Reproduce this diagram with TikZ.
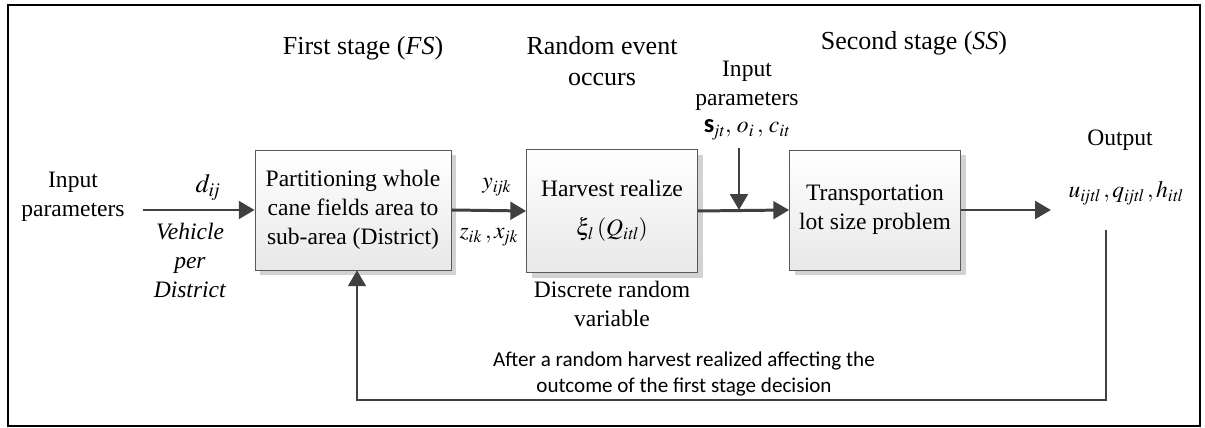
\documentclass[tikz,border=0pt]{standalone}
\usepackage{mathptmx}
\usepackage{fontspec}
\setmainfont{Liberation Serif}
\newfontfamily\calib{Carlito}
\usetikzlibrary{arrows.meta,shadows}
\definecolor{linegray}{HTML}{404040}
\tikzset{
  blockbox/.style={draw=gray!70!black,top color=white,bottom color=gray!18,
    minimum height=2.4cm,align=center,inner sep=2pt,
    drop shadow={shadow xshift=3pt,shadow yshift=-3pt,fill=gray!35,opacity=1}},
  flow/.style={draw=linegray,line width=1.7pt,-{Triangle[length=9pt,width=10pt]}},
  lbl/.style={align=center,inner sep=0pt},
  head/.style={lbl,font=\fontsize{14.8}{18}\selectfont}
}
\begin{document}
\begin{tikzpicture}[x=0.02cm,y=-0.02cm,font=\fontsize{13.4}{16.5}\selectfont]
        \useasboundingbox (0,0) rectangle (1205,428);
        \draw[line width=1.2pt] (8,5) rectangle (1200,426);
        % the three blocks
        \node[blockbox,minimum width=3.92cm] (fs) at (353,210)
            {Partitioning whole\\cane fields area to\\sub-area (District)};
        \node[blockbox,minimum width=3.42cm,minimum height=2.46cm] (re) at (612,211)
            {Harvest realize\\[6pt]$\xi_{l}\,(Q_{\mathit{itl}})$};
        \node[blockbox,minimum width=3.42cm] (ss) at (875,210)
            {Transportation\\lot size problem};
        % headings
        \node[head] (hfs) at (363,48) {First stage (\textit{FS})};
        \node[head] (hre) at (602,61) {Random event\\occurs};
        \node[head] (hss) at (914,43) {Second stage (\textit{SS})};
        % inputs and outputs
        \node[lbl] (inp) at (73,197) {Input\\parameters};
        \node[lbl,font=\fontsize{15}{18}\selectfont] (dij) at (208,187) {$d_{\mathit{ij}}$};
        \node[lbl] (veh) at (190,260) {\textit{Vehicle}\\\textit{per}\\\textit{District}};
        \node[lbl] (yijk) at (497,187) {$y_{\mathit{ijk}}$};
        \node[lbl] (zx) at (489,237) {$z_{\mathit{ik}}\,,x_{\mathit{jk}}$};
        \node[lbl] (drv) at (612,304) {Discrete random\\variable};
        \node[lbl] (inp2) at (747,86) {Input\\parameters};
        \node[lbl] (soc) at (747,130) {{\calib\bfseries\fontsize{15}{18}\selectfont s}$_{\mathit{jt}},\,o_{i}\,,\,c_{\mathit{it}}$};
        \node[lbl] (outl) at (1120,140) {Output};
        \node[lbl] (outv) at (1126,193) {$u_{\mathit{ijtl}}\,,q_{\mathit{ijtl}}\,,h_{\mathit{itl}}$};
        \node[lbl,font=\calib\fontsize{12}{14.5}\selectfont] (fbt) at (684,374)
            {After a random harvest realized affecting the\\outcome of the first stage decision};
        % connectors
        \coordinate (a0) at (143,210);
        \coordinate (j) at (739,210);
        \coordinate (v0) at (739,148);
        \coordinate (a4) at (1051,210);
        \coordinate (b0) at (1106,230);
        \coordinate (b1) at (1106,400);
        \coordinate (b2) at (357,400);
        \draw[flow] (a0) -- (fs.west);
        \draw[flow] (fs.east) -- (re.west);
        \draw[flow] (re.east) -- (ss.west);
        \draw[flow] (v0) -- (j);
        \draw[flow] (ss.east) -- (a4);
        \draw[flow] (b0) -- (b1) -- (b2) -- (b2 |- fs.south);
\end{tikzpicture}
\end{document}
